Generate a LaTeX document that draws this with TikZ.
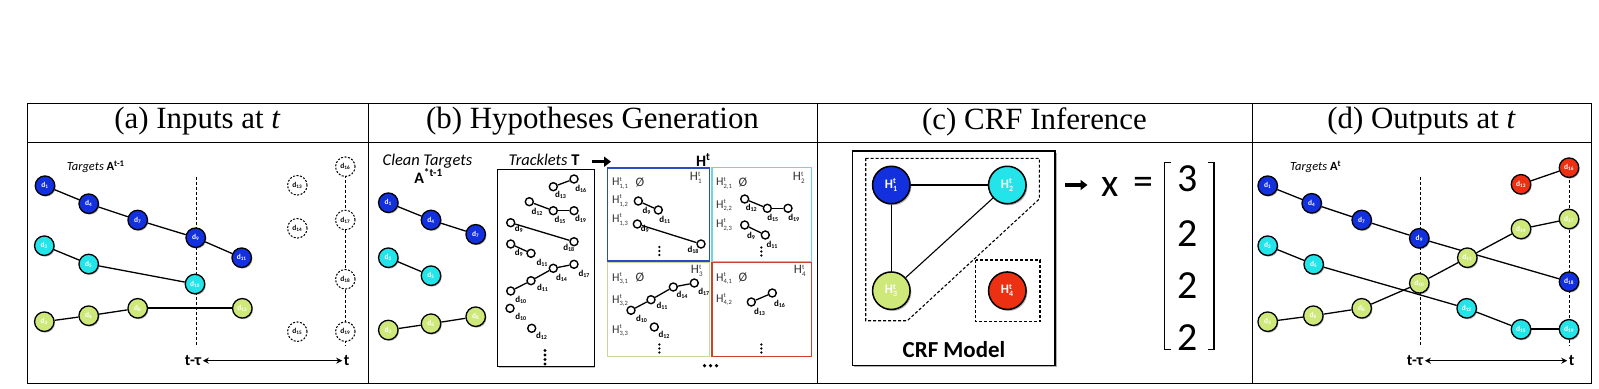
\documentclass[tikz,border=0pt]{standalone}
\usepackage{fontspec}
\setmainfont{Liberation Serif}
\newfontfamily\cali{Carlito}
\usetikzlibrary{arrows.meta,backgrounds,shadows}
\definecolor{nblue}{RGB}{18,48,222}
\definecolor{ncyan}{RGB}{35,228,232}
\definecolor{ngreen}{RGB}{206,232,122}
\definecolor{nred}{RGB}{238,48,18}
\definecolor{bblue}{RGB}{45,75,190}
\definecolor{bcyan}{RGB}{105,215,222}
\definecolor{bgreen}{RGB}{200,216,155}
\definecolor{bred}{RGB}{205,65,45}
\newcommand\dsub[1]{d\textsubscript{#1}}
\newcommand\HH[2]{H$^{\mbox{\fontsize{#2}{#2}\selectfont t}}_{\mbox{\fontsize{#2}{#2}\selectfont #1}}$}
\tikzset{
 det/.style={circle,draw=black,line width=1.3bp,minimum size=19.5bp,inner sep=0pt,text=white,
   font=\cali\bfseries\fontsize{7.5}{7.5}\selectfont,
   drop shadow={shadow xshift=1bp,shadow yshift=-1.2bp,fill=black,opacity=0.3}},
 db/.style={det,fill=nblue},
 dc/.style={det,fill=ncyan},
 dg/.style={det,fill=ngreen},
 dr/.style={det,fill=nred},
 dn/.style={circle,draw=black,dash pattern=on 2bp off 1.5bp,line width=1bp,minimum size=19.5bp,
   inner sep=0pt,fill=white,font=\cali\bfseries\fontsize{7.5}{7.5}\selectfont},
 lnk/.style={line width=1.3bp},
 lnkb/.style={line width=2.2bp},
 tline/.style={line width=0.9bp,dash pattern=on 3bp off 2bp},
 tc/.style={circle,draw=black,line width=1.4bp,minimum size=8bp,inner sep=0pt,fill=white},
 tl/.style={inner sep=0pt,font=\cali\bfseries\fontsize{9}{9}\selectfont},
 hl/.style={anchor=west,inner sep=0pt,text=black!80,font=\cali\fontsize{12}{12}\selectfont},
 hc/.style={inner sep=0pt,text=black!80,font=\cali\fontsize{13}{13}\selectfont},
 vd/.style={circle,fill=black,inner sep=0pt,minimum size=2.6bp},
 ttl/.style={font=\fontsize{31}{36}\selectfont},
 axl/.style={inner sep=1.5bp,font=\cali\bfseries\fontsize{16}{16}\selectfont},
 axa/.style={line width=1.3bp,{Stealth[length=6bp,width=6bp]}-{Stealth[length=6bp,width=6bp]}},
 bigarr/.style={line width=3.5bp,-{Triangle[length=7bp,width=10bp]}},
 crf/.style={circle,draw=black,line width=1.5bp,minimum size=37.5bp,inner sep=0pt,text=white,
   font=\cali\bfseries\fontsize{13}{13}\selectfont,
   drop shadow={shadow xshift=1.3bp,shadow yshift=-1.5bp,fill=black,opacity=0.3}},
 big/.style={inner sep=0pt,font=\cali\fontsize{40}{40}\selectfont},
}
\begin{document}
\begin{tikzpicture}[x=1bp,y=-1bp]
\useasboundingbox (0,0) rectangle (1599,388);
% table
\draw[line width=1bp] (27,103) rectangle (1591,383);
\draw[line width=1bp] (27,142) -- (1591,142);
\foreach \xx in {368,817,1252} \draw[line width=1bp] (\xx,103) -- (\xx,383);
\node[ttl] (ta) at (197.5,121.5) {(a) Inputs at \textit{t}};
\node[ttl] (tb) at (592.5,121.5) {(b) Hypotheses Generation};
\node[ttl] (tc) at (1034.5,121.5) {(c) CRF Inference};
\node[ttl] (td) at (1421.5,121.5) {(d) Outputs at \textit{t}};

% ---------- panel (a)
\coordinate (av1) at (196.7,176.7); \coordinate (av2) at (196.7,345.7);
\coordinate (aw1) at (345.3,170); \coordinate (aw2) at (345.3,345.7);
\draw[tline] (av1) -- (av2);
\draw[tline] (aw1) -- (aw2);
\node[anchor=west,inner sep=0pt,font=\cali\fontsize{12.5}{13}\selectfont] (atg) at (66.7,166.7) {\textit{Targets} \textbf{A}\textsuperscript{\textbf{t-1}}};
\node[db] (a1) at (45,185.7) {\dsub{1}};
\node[db] (a4) at (88.7,203.7) {\dsub{4}};
\node[db] (a7) at (137.7,220) {\dsub{7}};
\node[db] (a9) at (195.7,237.7) {\dsub{9}};
\node[db] (a11) at (241.7,257.7) {\dsub{11}};
\node[dc] (a2) at (44.3,245.7) {\dsub{2}};
\node[dc] (a5) at (88.7,264) {\dsub{5}};
\node[dc] (a10) at (195,284) {\dsub{10}};
\node[dg] (a3) at (44.3,321.7) {\dsub{3}};
\node[dg] (a6) at (88.7,315.7) {\dsub{6}};
\node[dg] (a8) at (137.7,308.3) {\dsub{8}};
\node[dg] (a12) at (242.3,308.3) {\dsub{12}};
\node[dn] (a13) at (297.3,185.3) {\dsub{13}};
\node[dn] (a14) at (297.3,228.3) {\dsub{14}};
\node[dn] (a15) at (297.3,331.7) {\dsub{15}};
\node[dn] (a16) at (345.3,166.7) {\dsub{16}};
\node[dn] (a17) at (345.3,220) {\dsub{17}};
\node[dn] (a18) at (345.3,279.3) {\dsub{18}};
\node[dn] (a19) at (345.3,331.7) {\dsub{19}};
\node[axl] (atl) at (193,360.7) {t-τ};
\node[axl] (atr) at (346.7,360.7) {t};
\draw[axa] (atl.east) -- (atr.west);
\begin{scope}[on background layer]
\draw[lnk] (a1) -- (a4) -- (a7) -- (a9) -- (a11);
\draw[lnk] (a2) -- (a5) -- (a10);
\draw[lnk] (a3) -- (a6) -- (a8);
\draw[lnkb] (a8) -- (a12);
\end{scope}

% ---------- panel (b)
\node[inner sep=0pt,font=\cali\itshape\fontsize{16.5}{17}\selectfont] (bct) at (427.5,161) {Clean Targets};
\node[inner sep=0pt,font=\cali\bfseries\fontsize{16}{17}\selectfont] (bat) at (428.5,176) {A\textsuperscript{*t-1}};
\node[db] (b1) at (388.3,202.7) {\dsub{1}};
\node[db] (b4) at (431,220) {\dsub{4}};
\node[db] (b7) at (475.7,234.3) {\dsub{7}};
\node[dc] (b2) at (388.3,257.7) {\dsub{2}};
\node[dc] (b5) at (431,275.7) {\dsub{5}};
\node[dg] (b3) at (388.3,330) {\dsub{3}};
\node[dg] (b6) at (431,323.7) {\dsub{6}};
\node[dg] (b8) at (475.7,316.7) {\dsub{8}};
\begin{scope}[on background layer]
\draw[lnk] (b1) -- (b4) -- (b7);
\draw[lnk] (b2) -- (b5);
\draw[lnk] (b3) -- (b6) -- (b8);
\end{scope}
\node[inner sep=0pt,font=\cali\fontsize{16.5}{17}\selectfont] (btr) at (544,160) {\textit{Tracklets} \textbf{T}};
\coordinate (bar1) at (592,161.7); \coordinate (bar2) at (611,161.7);
\draw[bigarr] (bar1) -- (bar2);
\node[inner sep=0pt,font=\cali\bfseries\fontsize{16}{17}\selectfont] (bht) at (703.3,160) {H\textsuperscript{t}};
\draw[line width=1.1bp,fill=white,drop shadow={shadow xshift=1bp,shadow yshift=-1bp,fill=black,opacity=0.25}] (497.7,169.3) rectangle (594.3,366.7);
% tracklets
\node[tc] (t1a) at (553.3,186.7) {}; \node[tc] (t1b) at (574,179) {};
\node[tl] (l1a) at (560.7,195) {\dsub{13}}; \node[tl] (l1b) at (581,189.3) {\dsub{16}};
\node[tc] (t2a) at (529.3,201.7) {}; \node[tc] (t2b) at (553.3,210.7) {}; \node[tc] (t2c) at (574,210.7) {};
\node[tl] (l2a) at (537.3,212.3) {\dsub{12}}; \node[tl] (l2b) at (560.3,220) {\dsub{15}}; \node[tl] (l2c) at (580.7,219.3) {\dsub{19}};
\node[tc] (t3a) at (510.7,222.7) {}; \node[tc] (t3b) at (574,241.7) {};
\node[tl] (l3a) at (519,229) {\dsub{9}}; \node[tl] (l3b) at (569,248) {\dsub{18}};
\node[tc] (t4a) at (510.7,244) {}; \node[tc] (t4b) at (531,253.3) {};
\node[tl] (l4a) at (519,253.3) {\dsub{9}}; \node[tl] (l4b) at (542.3,263.3) {\dsub{11}};
\node[tc] (t5a) at (510.7,291) {}; \node[tc] (t5b) at (531,280.7) {}; \node[tc] (t5c) at (553.3,268.3) {}; \node[tc] (t5d) at (574,264.3) {};
\node[tl] (l5a) at (521,300) {\dsub{10}}; \node[tl] (l5b) at (542.7,287.7) {\dsub{11}}; \node[tl] (l5c) at (561.7,277.7) {\dsub{14}}; \node[tl] (l5d) at (584.3,274.3) {\dsub{17}};
\node[tc] (t6) at (510,308.3) {}; \node[tl] (l6) at (521,316.7) {\dsub{10}};
\node[tc] (t7) at (531.7,328.3) {}; \node[tl] (l7) at (541.7,335.7) {\dsub{12}};
\foreach \yy [count=\i] in {350.5,355,359.5,364} \node[vd,minimum size=3.4bp] (tv\i) at (545,\yy) {};
\draw[lnk] (t1a) -- (t1b);
\draw[lnk] (t2a) -- (t2b);
\draw[lnk] (t2b) -- (t2c);
\draw[lnk] (t3a) -- (t3b);
\draw[lnk] (t4a) -- (t4b);
\draw[lnk] (t5a) -- (t5b);
\draw[lnk] (t5b) -- (t5c);
\draw[lnk] (t5c) -- (t5d);
% hypothesis boxes
\draw[line width=1.2bp,draw=bblue] (607.5,168) rectangle (709.5,261);
\draw[line width=1.2bp,draw=bcyan] (712,167.5) rectangle (811.5,261.5);
\draw[line width=1.2bp,draw=bgreen] (607.5,262.5) rectangle (709.5,356.3);
\draw[line width=1.2bp,draw=bred] (712,262.5) rectangle (811.5,356.3);
% H1
\node[hl] (h11) at (612,183.3) {\HH{1,1}{6.5}};
\node[hc] (h11e) at (640,182.3) {Ø};
\node[hc] (h1c) at (696,177.7) {\HH{1}{7}};
\node[hl] (h12) at (612,201) {\HH{1,2}{6.5}};
\node[tc] (h12a) at (638.3,201) {}; \node[tc] (h12b) at (658.3,210) {};
\node[tl] (m12a) at (646.7,211) {\dsub{9}}; \node[tl] (m12b) at (665,220) {\dsub{11}};
\node[hl] (h13) at (612,220) {\HH{1,3}{6.5}};
\node[tc] (h13a) at (637.3,224) {}; \node[tc] (h13b) at (701,244) {};
\node[tl] (m13a) at (645,229.3) {\dsub{9}}; \node[tl] (m13b) at (693.3,250) {\dsub{18}};
\foreach \yy [count=\i] in {247,251,255} \node[vd] (hv1\i) at (659.3,\yy) {};
% H2
\node[hl] (h21) at (716,183.3) {\HH{2,1}{6.5}};
\node[hc] (h21e) at (743,182.3) {Ø};
\node[hc] (h2c) at (799,177.7) {\HH{2}{7}};
\node[hl] (h22) at (716,205.7) {\HH{2,2}{6.5}};
\node[tc] (h22a) at (744.7,199) {}; \node[tc] (h22b) at (767.3,208.3) {}; \node[tc] (h22c) at (788,208.3) {};
\node[tl] (m22a) at (751.5,208.3) {\dsub{12}}; \node[tl] (m22b) at (773,217.7) {\dsub{15}}; \node[tl] (m22c) at (794,217.7) {\dsub{19}};
\node[hl] (h23) at (716,225) {\HH{2,3}{6.5}};
\node[tc] (h23a) at (744.7,225) {}; \node[tc] (h23b) at (765.3,235) {};
\node[tl] (m23a) at (751.3,235.7) {\dsub{9}}; \node[tl] (m23b) at (772.3,245) {\dsub{11}};
\foreach \yy [count=\i] in {247.5,251.5,255.5} \node[vd] (hv2\i) at (761.3,\yy) {};
% H3
\node[hl] (h31) at (612,278.7) {\HH{3,1}{6.5}};
\node[hc] (h31e) at (640,277.7) {Ø};
\node[hc] (h3c) at (697,270.7) {\HH{3}{7}};
\node[hl] (h32) at (612,300.7) {\HH{3,2}{6.5}};
\node[tc] (h32a) at (631,310.3) {}; \node[tc] (h32b) at (651,299.7) {}; \node[tc] (h32c) at (673.3,287) {}; \node[tc] (h32d) at (694.3,283) {};
\node[tl] (m32a) at (641.7,319) {\dsub{10}}; \node[tl] (m32b) at (662.3,306.3) {\dsub{11}}; \node[tl] (m32c) at (682.3,294.7) {\dsub{14}}; \node[tl] (m32d) at (704,292) {\dsub{17}};
\node[hl] (h33) at (612,330.7) {\HH{3,3}{6.5}};
\node[tc] (h33a) at (654.3,327) {}; \node[tl] (m33a) at (664.3,335.3) {\dsub{12}};
\foreach \yy [count=\i] in {344.5,348.5,352.5} \node[vd] (hv3\i) at (659.3,\yy) {};
% H4
\node[hl] (h41) at (716,278.7) {\HH{4,1}{6.5}};
\node[hc] (h41e) at (743,277.7) {Ø};
\node[hc] (h4c) at (800,270.7) {\HH{4}{7}};
\node[hl] (h42) at (716,299.7) {\HH{4,2}{6.5}};
\node[tc] (h42a) at (751.3,302) {}; \node[tc] (h42b) at (772.3,293) {};
\node[tl] (m42a) at (759.7,312) {\dsub{13}}; \node[tl] (m42b) at (779.7,304) {\dsub{16}};
\foreach \yy [count=\i] in {344.5,348.5,352.5} \node[vd] (hv4\i) at (761.3,\yy) {};
\foreach \xx [count=\i] in {704.5,710.5,716.5} \node[vd,minimum size=3.6bp] (hd\i) at (\xx,365.7) {};
\draw[lnk] (h12a) -- (h12b);
\draw[lnk] (h13a) -- (h13b);
\draw[lnk] (h22a) -- (h22b);
\draw[lnk] (h22b) -- (h22c);
\draw[lnk] (h23a) -- (h23b);
\draw[lnk] (h32a) -- (h32b);
\draw[lnk] (h32b) -- (h32c);
\draw[lnk] (h32c) -- (h32d);
\draw[lnk] (h42a) -- (h42b);

% ---------- panel (c)
\draw[line width=1.5bp,fill=white,drop shadow={shadow xshift=1.5bp,shadow yshift=-1.5bp,fill=black,opacity=0.3}] (852.7,151) rectangle (1055,365.7);
\draw[line width=1.1bp,dash pattern=on 3bp off 2bp] (865.7,158.3) -- (1039.3,158.3) -- (1039.3,199) -- (907.3,320.7) -- (865.7,320.7) -- cycle;
\draw[line width=1.1bp,dash pattern=on 3bp off 2bp] (975.7,260) rectangle (1040,321.7);
\node[crf,fill=nblue] (H1) at (891.3,185) {\HH{1}{8}};
\node[crf,fill=ncyan] (H2) at (1007.3,185) {\HH{2}{8}};
\node[crf,fill=ngreen] (H3) at (891.3,290.7) {\HH{3}{8}};
\node[crf,fill=nred] (H4) at (1007.3,290.7) {\HH{4}{8}};
\draw[line width=1.1bp] (H1) -- (H2);
\draw[line width=1.1bp] (H1) -- (H3);
\draw[line width=1.1bp] (H3) -- (H2);
\node[inner sep=0pt,font=\cali\bfseries\fontsize{23}{23}\selectfont] (cm) at (954,350) {CRF Model};
\coordinate (car1) at (1065,185); \coordinate (car2) at (1087.5,185);
\draw[bigarr] (car1) -- (car2);
\node[big] (cx) at (1110,186.7) {x};
\node[big] (ceq) at (1143.3,185.7) {=};
\draw[line width=1.5bp] (1170.5,162.7) -- (1164.5,162.7) -- (1164.5,349.3) -- (1170.5,349.3);
\draw[line width=1.5bp] (1208,162.7) -- (1214,162.7) -- (1214,349.3) -- (1208,349.3);
\node[big] (cv1) at (1188,178.3) {3};
\node[big] (cv2) at (1188,233.3) {2};
\node[big] (cv3) at (1188,285.7) {2};
\node[big] (cv4) at (1188,337.3) {2};

% ---------- panel (d)
\coordinate (dv1) at (1420,176.7); \coordinate (dv2) at (1420,345.7);
\coordinate (dw1) at (1569,175); \coordinate (dw2) at (1569,345.7);
\draw[tline] (dv1) -- (dv2);
\draw[tline] (dw1) -- (dw2);
\node[anchor=west,inner sep=0pt,font=\cali\fontsize{12.5}{13}\selectfont] (dtg) at (1290,166.7) {\textit{Targets} \textbf{A}\textsuperscript{\textbf{t}}};
\node[db] (o1) at (1267.7,185.7) {\dsub{1}};
\node[db] (o4) at (1311.7,203.3) {\dsub{4}};
\node[db] (o7) at (1361.7,220) {\dsub{7}};
\node[db] (o9) at (1419.3,238.3) {\dsub{9}};
\node[db] (o18) at (1569,281.7) {\dsub{18}};
\node[dc] (o2) at (1267.7,245.7) {\dsub{2}};
\node[dc] (o5) at (1313.7,264.3) {\dsub{5}};
\node[dc] (o12) at (1466.7,308.3) {\dsub{12}};
\node[dc] (o15) at (1521,329.3) {\dsub{15}};
\node[dc] (o19) at (1569,329.3) {\dsub{19}};
\node[dg] (o3) at (1267.7,321.7) {\dsub{3}};
\node[dg] (o6) at (1313.3,315.7) {\dsub{6}};
\node[dg] (o8) at (1361.7,308.3) {\dsub{8}};
\node[dg] (o10) at (1419.3,283.3) {\dsub{10}};
\node[dg] (o11) at (1467.3,257.7) {\dsub{11}};
\node[dg] (o14) at (1521,229) {\dsub{14}};
\node[dg] (o17) at (1569,219) {\dsub{17}};
\node[dr] (o13) at (1521,184.3) {\dsub{13}};
\node[dr] (o16) at (1569,167.7) {\dsub{16}};
\node[axl] (dtl) at (1415,360.7) {t-τ};
\node[axl] (dtr) at (1571.7,360.7) {t};
\draw[axa] (dtl.east) -- (dtr.west);
\begin{scope}[on background layer]
\draw[lnk] (o1) -- (o4) -- (o7) -- (o9) -- (o18);
\draw[lnk] (o2) -- (o5) -- (o12) -- (o15);
\draw[lnkb] (o15) -- (o19);
\draw[lnk] (o3) -- (o6) -- (o8) -- (o10) -- (o11) -- (o14) -- (o17);
\draw[lnk] (o13) -- (o16);
\end{scope}
\end{tikzpicture}
\end{document}
